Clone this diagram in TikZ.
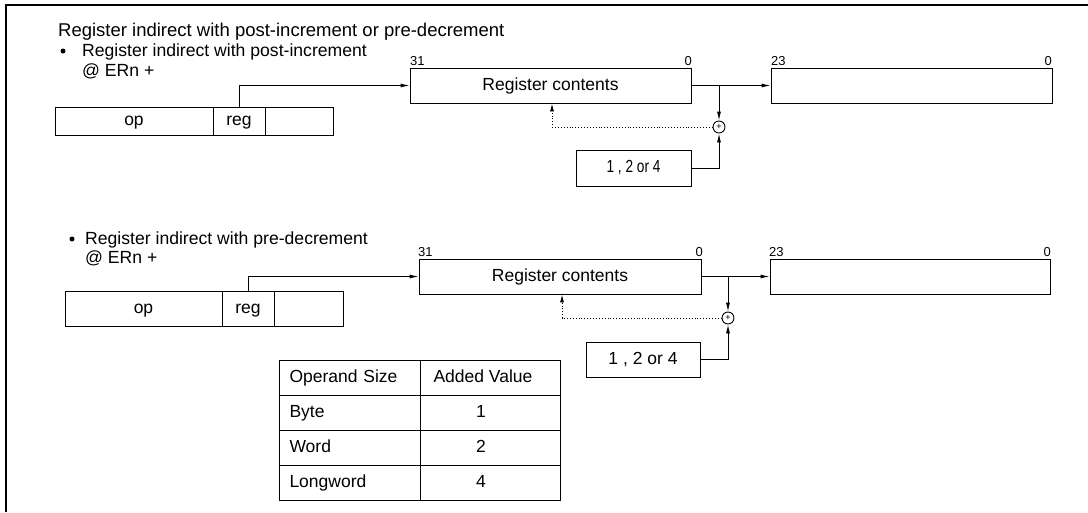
\documentclass[tikz,border=0pt]{standalone}
\usepackage{fontspec}
\setmainfont{Liberation Sans}
\usepackage{graphicx}
\usetikzlibrary{arrows.meta}
\begin{document}
\begin{tikzpicture}[x=1pt,y=-1pt,
  box/.style={draw, line width=0.9pt, inner sep=0pt, text height=12.5pt, text depth=3.5pt, font=\fontsize{17.5}{21}\selectfont},
  bit/.style={inner sep=0pt, font=\fontsize{13}{15}\selectfont},
  txt/.style={inner sep=0pt, anchor=base west, font=\fontsize{17.6}{20}\selectfont},
  ttl/.style={inner sep=0pt, anchor=base west, font=\fontsize{18.5}{20}\selectfont},
  bul/.style={circle, fill=black, inner sep=0pt, minimum size=5pt},
  arr/.style={line width=0.9pt, -{Latex[length=9pt,width=4pt]}},
  dotarr/.style={line width=0.9pt, dotted, -{Latex[length=8pt,width=4pt]}},
  plus/.style={circle, draw, line width=0.9pt, minimum size=12pt, inner sep=0pt, font=\fontsize{9}{9}\selectfont},
  cellA/.style={box, minimum width=141pt, minimum height=35pt, text width=120pt, align=left},
  cellB/.style={box, minimum width=140pt, minimum height=35pt},
  ctxt/.style={inner sep=0pt, text height=12.5pt, text depth=3.5pt, font=\fontsize{17.5}{21}\selectfont},
  frameline/.style={line width=2.5pt}
]
\useasboundingbox (0,0) rectangle (1088,512);
\fill[white] (0,0) rectangle (1088,512);
% frame
\coordinate (f1) at (6,512);
\coordinate (f2) at (6,5);
\coordinate (f3) at (1088,5);
\draw[frameline] (f1) -- (f2) -- (f3);

% ---------- texts top ----------
\node[ttl] (title) at (58,36) {Register indirect with post-increment or pre-decrement};
\node[bul] (bu1) at (63,51) {};
\node[txt] (t1) at (82,56) {Register indirect with post-increment};
\node[txt] (m1) at (82,76) {@ ERn +};

% ---------- top diagram ----------
\node[box, minimum width=158pt, minimum height=28pt] (op1) at (134,121) {op};
\node[box, minimum width=52pt, minimum height=28pt] (reg1) at (239,121) {reg};
\node[box, minimum width=68pt, minimum height=28pt] (emp1) at (299,121) {};

\node[box, minimum width=281pt, minimum height=35pt] (R1) at (550.5,85.5) {Register contents};
\node[box, minimum width=281pt, minimum height=35pt] (B1) at (911.5,85.5) {};
\node[box, minimum width=115pt, minimum height=36pt] (A1) at (633.5,168) {\scalebox{0.78}[1]{1 , 2 or 4}};
\node[plus] (P1) at (719,127) {+};

\node[bit, anchor=base west] (l31a) at (410,65) {31};
\node[bit, anchor=base east] (l0a) at (692,65) {0};
\node[bit, anchor=base west] (l23a) at (771,65) {23};
\node[bit, anchor=base east] (l0b) at (1052,65) {0};

\draw[arr] (reg1.north) |- (R1.west);
\draw[arr] (R1.east) -- (B1.west);
\draw[arr] (R1.east -| P1) -- (P1.north);
\draw[arr] (A1.east) -| (P1.south);
\draw[dotarr] (P1.west) -| ([xshift=1.5pt]R1.south);

% ---------- texts bottom ----------
\node[bul] (bu2) at (72,239) {};
\node[txt] (t2) at (85,244) {Register indirect with pre-decrement};
\node[txt] (m2) at (85,263) {@ ERn +};

% ---------- bottom diagram ----------
\node[box, minimum width=157pt, minimum height=35pt] (op2) at (143.5,308.5) {op};
\node[box, minimum width=52pt, minimum height=35pt] (reg2) at (248,308.5) {reg};
\node[box, minimum width=69pt, minimum height=35pt] (emp2) at (308.5,308.5) {};

\node[box, minimum width=282pt, minimum height=35pt] (R2) at (560,276.5) {Register contents};
\node[box, minimum width=280pt, minimum height=35pt] (B2) at (910,276.5) {};
\node[box, minimum width=114pt, minimum height=35pt] (A2) at (643,359.5) {1 , 2 or 4};
\node[plus] (P2) at (728,318) {+};

\node[bit, anchor=base west] (l31c) at (418,256) {31};
\node[bit, anchor=base east] (l0c) at (703,256) {0};
\node[bit, anchor=base west] (l23c) at (769,256) {23};
\node[bit, anchor=base east] (l0d) at (1051,256) {0};

\draw[arr] (reg2.north) |- (R2.west);
\draw[arr] (R2.east) -- (B2.west);
\draw[arr] (R2.east -| P2) -- (P2.north);
\draw[arr] (A2.east) -| (P2.south);
\draw[dotarr] (P2.west) -| ([xshift=2pt]R2.south);

% ---------- table ----------
\node[cellA] (a0) at (349.5,377.5) {Operand Size};
\node[cellB] (b0) at (490,377.5) {};
\node[cellA] (a1) at (349.5,412.5) {Byte};
\node[cellB] (b1) at (490,412.5) {};
\node[cellA] (a2) at (349.5,447.5) {Word};
\node[cellB] (b2) at (490,447.5) {};
\node[cellA] (a3) at (349.5,482.5) {Longword};
\node[cellB] (b3) at (490,482.5) {};
\node[ctxt] (v0) at ([xshift=-7pt]b0.center) {Added Value};
\node[ctxt] (v1) at ([xshift=-9pt]b1.center) {1};
\node[ctxt] (v2) at ([xshift=-9pt]b2.center) {2};
\node[ctxt] (v3) at ([xshift=-9pt]b3.center) {4};
\end{tikzpicture}
\end{document}
